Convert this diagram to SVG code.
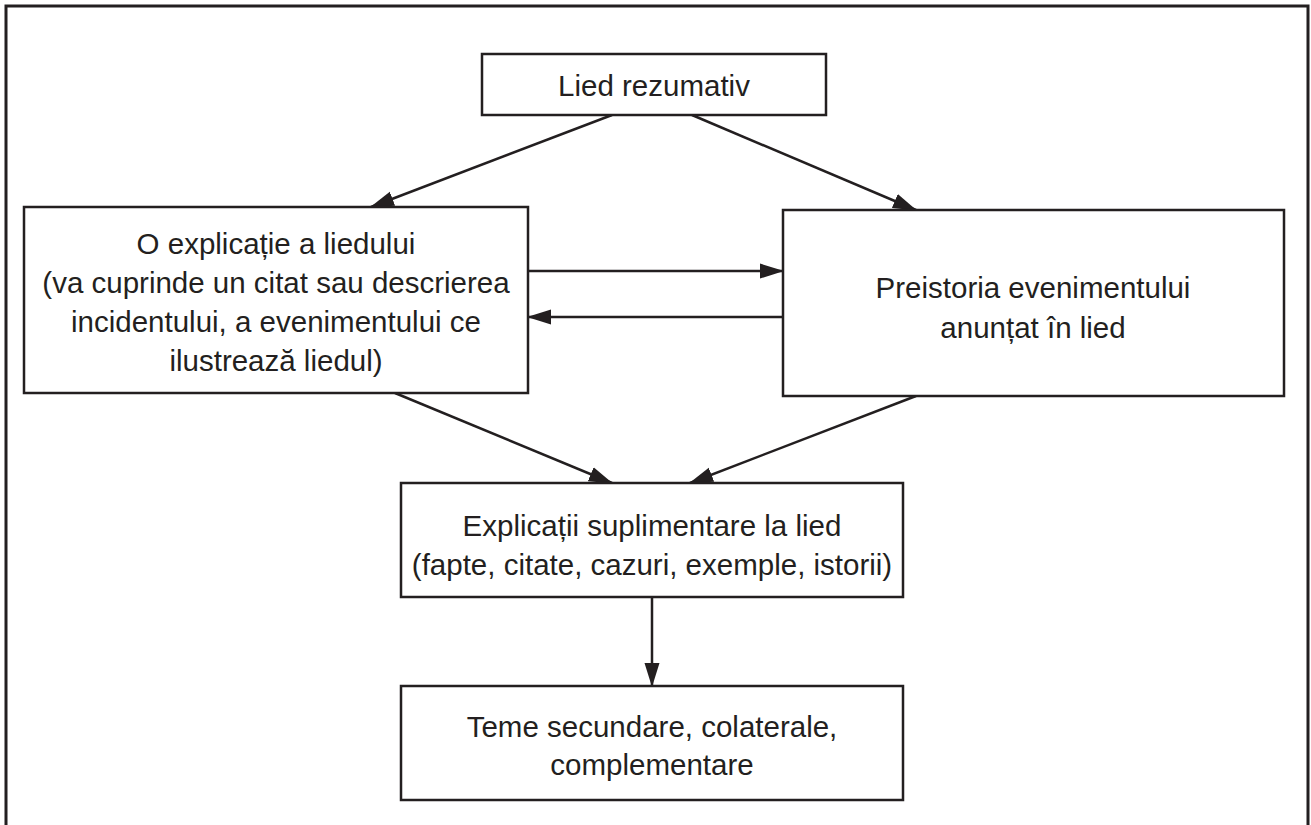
<svg xmlns="http://www.w3.org/2000/svg" width="1311" height="825" viewBox="0 0 1311 825">
<style>
.box{fill:#fff;stroke:#231f20;stroke-width:2.5}
.t{font-family:"Liberation Sans",Arial,sans-serif;font-size:29.5px;fill:#231f20;text-anchor:middle}
.c{stroke:#231f20;stroke-width:2.5;fill:none;marker-end:url(#ah)}
</style>
<defs>
<marker id="ah" markerUnits="userSpaceOnUse" markerWidth="26" markerHeight="16" refX="23" refY="7.5" orient="auto" viewBox="0 0 26 15">
<path d="M0,0 L24,7.5 L0,15 Z" fill="#231f20"/>
</marker>
</defs>
<rect width="1311" height="825" fill="#fff"/>
<path d="M6,825 V6 H1308 V825" fill="none" stroke="#231f20" stroke-width="3"/>
<g id="connectors">
<line class="c" x1="612" y1="115" x2="371" y2="207"/>
<line class="c" x1="692" y1="115" x2="916" y2="210"/>
<line class="c" x1="528" y1="271" x2="783" y2="271"/>
<line class="c" x1="783" y1="317" x2="528" y2="317"/>
<line class="c" x1="395" y1="393" x2="612" y2="483"/>
<line class="c" x1="916" y1="396" x2="690" y2="483"/>
<line class="c" x1="652" y1="597" x2="652" y2="686"/>
</g>
<g id="n1">
<rect class="box" x="482" y="54" width="344" height="61"/>
<text class="t" x="654" y="96">Lied rezumativ</text>
</g>
<g id="n2">
<rect class="box" x="24" y="207" width="504" height="186"/>
<text class="t" x="276" y="254">O explicație a liedului</text>
<text class="t" x="276" y="293">(va cuprinde un citat sau descrierea</text>
<text class="t" x="276" y="332">incidentului, a evenimentului ce</text>
<text class="t" x="276" y="371">ilustrează liedul)</text>
</g>
<g id="n3">
<rect class="box" x="783" y="210" width="501" height="186"/>
<text class="t" x="1033" y="298">Preistoria evenimentului</text>
<text class="t" x="1033" y="338">anunțat în lied</text>
</g>
<g id="n4">
<rect class="box" x="401" y="483" width="502" height="114"/>
<text class="t" x="652" y="536">Explicații suplimentare la lied</text>
<text class="t" x="652" y="575">(fapte, citate, cazuri, exemple, istorii)</text>
</g>
<g id="n5">
<rect class="box" x="401" y="686" width="502" height="114"/>
<text class="t" x="652" y="737">Teme secundare, colaterale,</text>
<text class="t" x="652" y="775">complementare</text>
</g>
</svg>
